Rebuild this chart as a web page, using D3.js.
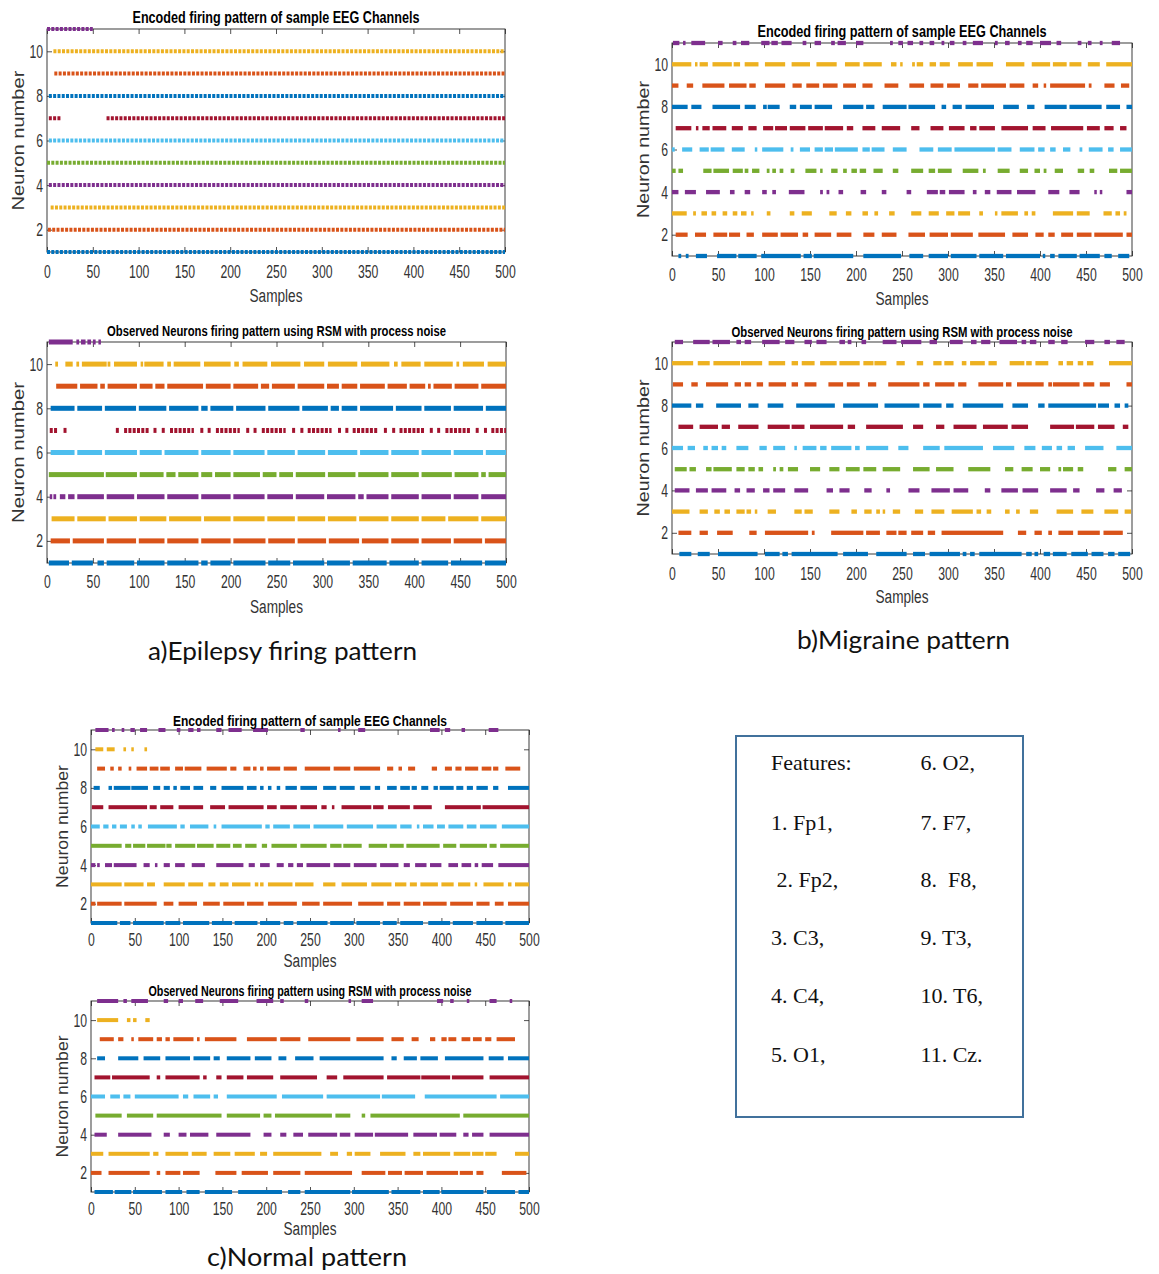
<!DOCTYPE html>
<html>
<head>
<meta charset="utf-8">
<script src="https://cdn.jsdelivr.net/npm/d3@7"></script>
<style>
body { margin: 0; background: #fff; }
</style>
</head>
<body>
<div id="fig"></div>
<script>
//TEXTS
var TITLE_ENCODED = "Encoded firing pattern of sample EEG Channels";
var TITLE_OBSERVED = "Observed Neurons firing pattern using RSM with process noise";
var X_LABEL = "Samples";
var Y_LABEL = "Neuron number";
var X_TICKS = [0, 50, 100, 150, 200, 250, 300, 350, 400, 450, 500];
var Y_TICKS = [2, 4, 6, 8, 10];
var CAPTIONS = ["a)Epilepsy firing pattern", "b)Migraine pattern", "c)Normal pattern"];
var FEATURES_LEFT = ["Features:", "1. Fp1,", " 2. Fp2,", "3. C3,", "4. C4,", "5. O1,"];
var FEATURES_RIGHT = ["6. O2,", "7. F7,", "8.  F8,", "9. T3,", "10. T6,", "11. Cz."];

//SPIKE RUNS PER NEURON (first entry = neuron 1), [start sample, end sample]
var epilepsyEncoded = [
  [[0,500]],
  [[1,500]],
  [[4,500]],
  [[2,500]],
  [[0,500]],
  [[2,500]],
  [[2,15],[65,500]],
  [[2,500]],
  [[8,500]],
  [[7,500]],
  [[0,50]]
];

var epilepsyObserved = [
  [[2,24],[27,50],[55,62],[65,95],[98,128],[131,165],[168,175],[178,200],[203,238],[241,265],[268,302],[305,330],[333,370],[373,405],[408,437],[440,474],[477,500]],
  [[4,25],[28,62],[65,97],[100,128],[131,165],[168,200],[203,238],[241,270],[273,304],[307,340],[343,372],[375,405],[408,440],[443,474],[477,500]],
  [[5,30],[33,64],[67,98],[101,130],[133,168],[171,200],[203,237],[240,270],[273,303],[306,337],[340,372],[375,405],[408,434],[437,470],[473,500]],
  [[3,4],[7,10],[14,20],[23,30],[33,62],[65,95],[98,128],[131,165],[168,200],[203,237],[240,268],[271,302],[305,336],[339,345],[348,372],[375,405],[408,440],[443,470],[473,500]],
  [[2,62],[64,98],[101,127],[130,140],[143,165],[168,180],[183,200],[203,232],[235,250],[253,268],[271,303],[306,336],[339,372],[375,405],[408,441],[444,470],[473,478],[481,500]],
  [[4,30],[33,60],[63,98],[101,125],[128,165],[168,200],[203,237],[240,270],[273,303],[306,338],[341,372],[375,405],[408,440],[443,475],[478,500]],
  [[3,11],[18,20],[75,77],[84,111],[116,120],[125,129],[134,160],[167,170],[175,179],[184,210],[217,220],[225,229],[234,260],[267,269],[276,279],[284,310],[317,320],[325,329],[333,361],[367,370],[376,380],[384,411],[417,420],[425,429],[434,461],[467,470],[476,479],[484,500]],
  [[4,30],[33,60],[63,97],[100,130],[133,165],[168,175],[178,203],[206,238],[241,275],[278,306],[309,318],[321,338],[341,377],[380,408],[411,440],[443,475],[478,500]],
  [[10,33],[36,55],[58,63],[66,98],[101,115],[118,128],[131,170],[173,200],[203,230],[233,242],[245,270],[273,302],[305,318],[321,338],[341,368],[371,392],[395,412],[415,418],[421,441],[444,470],[473,500]],
  [[9,12],[20,28],[32,35],[38,65],[66,69],[73,98],[102,104],[106,127],[131,135],[138,167],[171,200],[204,209],[213,240],[244,276],[280,302],[306,338],[342,373],[378,382],[386,407],[411,442],[446,449],[453,476],[480,500]],
  [[2,28],[32,35],[37,42],[44,48],[50,53],[56,58]]
];

var migraineEncoded = [
  [[7,10],[15,18],[26,38],[49,70],[72,92],[97,140],[143,152],[154,197],[208,249],[258,273],[279,300],[303,331],[334,360],[363,400],[403,405],[411,416],[420,440],[443,465],[470,478],[485,497]],
  [[4,17],[25,37],[45,60],[62,74],[81,89],[98,115],[118,137],[142,148],[155,173],[179,195],[208,220],[228,244],[257,275],[280,300],[303,327],[333,362],[370,387],[395,404],[409,416],[423,436],[440,456],[459,490],[494,500]],
  [[0,16],[23,26],[32,38],[43,48],[55,60],[66,71],[75,81],[86,88],[103,107],[128,133],[141,152],[171,179],[189,195],[207,213],[220,224],[236,242],[260,271],[279,290],[298,307],[311,324],[334,338],[351,353],[358,376],[383,387],[391,395],[414,436],[440,454],[469,478],[482,487],[491,494]],
  [[0,7],[14,26],[37,52],[63,68],[79,85],[98,103],[109,113],[127,144],[161,164],[168,171],[181,186],[205,211],[228,233],[255,260],[277,289],[291,297],[301,318],[327,331],[340,346],[353,369],[375,395],[409,421],[432,443],[459,461],[465,467],[494,500]],
  [[0,4],[7,12],[34,43],[45,62],[66,77],[79,83],[87,95],[103,106],[109,113],[117,121],[129,133],[145,157],[161,162],[173,180],[186,190],[195,201],[204,211],[219,229],[240,246],[260,273],[279,286],[289,304],[316,333],[338,341],[354,367],[378,387],[394,400],[404,407],[416,425],[441,448],[454,459],[475,484],[487,500]],
  [[0,3],[11,22],[30,40],[42,57],[65,79],[90,92],[98,121],[129,132],[139,150],[155,164],[166,175],[177,202],[207,215],[217,231],[240,255],[269,284],[289,304],[307,351],[354,369],[378,394],[398,405],[411,417],[425,433],[443,446],[453,468],[474,480],[487,500]],
  [[4,21],[26,28],[33,41],[44,59],[65,77],[83,92],[99,110],[112,125],[128,145],[148,164],[166,186],[190,197],[207,221],[228,248],[260,269],[281,295],[301,318],[324,331],[334,351],[358,387],[392,406],[412,447],[451,465],[470,480],[487,494]],
  [[0,17],[21,32],[44,74],[79,91],[99,103],[104,117],[128,135],[139,152],[155,174],[186,208],[211,220],[229,255],[257,286],[293,298],[305,315],[319,350],[360,377],[386,394],[405,429],[432,467],[472,487],[494,500]],
  [[0,7],[16,23],[33,57],[62,81],[84,91],[101,123],[131,141],[146,160],[164,180],[186,200],[207,218],[231,246],[258,274],[281,295],[299,313],[322,333],[336,363],[367,383],[392,398],[404,405],[411,449],[453,456],[470,481],[488,497]],
  [[0,21],[25,26],[30,39],[44,65],[67,74],[79,94],[101,123],[130,150],[157,179],[188,204],[208,228],[238,244],[248,250],[261,264],[266,273],[280,287],[291,302],[311,327],[331,349],[363,383],[391,411],[414,429],[432,445],[452,465],[472,500]],
  [[1,8],[12,14],[21,36],[50,55],[66,70],[75,84],[97,106],[108,115],[119,130],[142,146],[155,162],[173,177],[180,189],[200,208],[237,240],[246,251],[256,262],[269,273],[280,285],[293,296],[302,307],[316,320],[327,338],[351,354],[362,367],[376,380],[385,392],[400,412],[418,423],[441,445],[452,456],[465,468],[478,487]]
];

var migraineObserved = [
  [[8,21],[28,41],[50,93],[101,117],[120,126],[130,180],[186,213],[222,255],[262,275],[280,313],[316,320],[324,329],[334,380],[385,391],[394,398],[404,411],[414,429],[434,452],[456,469],[474,481],[485,498]],
  [[7,21],[30,39],[49,66],[84,92],[101,148],[152,155],[173,208],[211,226],[233,244],[246,255],[260,273],[278,286],[293,360],[376,385],[394,402],[409,413],[420,436],[441,465],[469,490]],
  [[0,19],[30,39],[46,52],[57,63],[70,79],[81,86],[90,92],[104,113],[133,141],[144,153],[171,182],[195,201],[209,217],[222,226],[229,231],[240,248],[264,273],[282,296],[304,327],[331,336],[342,347],[362,367],[374,378],[389,398],[418,436],[445,458],[470,485],[492,499]],
  [[3,19],[26,39],[43,59],[68,74],[81,90],[99,106],[110,123],[133,148],[168,175],[182,193],[209,217],[233,237],[257,269],[282,302],[306,322],[340,346],[358,376],[381,398],[411,429],[436,443],[461,470],[480,489]],
  [[3,16],[19,26],[37,43],[45,65],[70,79],[83,90],[94,99],[110,113],[117,121],[126,137],[150,161],[171,182],[189,204],[208,222],[229,248],[262,280],[287,306],[322,346],[362,371],[380,392],[400,411],[420,423],[425,436],[441,447],[474,483],[492,500]],
  [[0,12],[17,25],[34,39],[43,50],[54,59],[70,83],[95,103],[110,123],[133,135],[142,157],[161,168],[173,195],[199,204],[211,235],[246,257],[273,291],[296,338],[349,372],[383,395],[402,413],[418,424],[430,438],[449,469],[483,500]],
  [[7,23],[30,50],[54,63],[72,94],[104,128],[130,144],[150,186],[191,199],[211,251],[262,273],[287,296],[306,331],[338,365],[369,387],[411,437],[439,459],[463,481],[490,496]],
  [[0,21],[26,34],[48,75],[83,94],[104,121],[135,177],[186,224],[231,269],[273,293],[298,306],[316,360],[370,387],[398,405],[409,461],[463,475],[481,487],[492,496]],
  [[1,12],[21,28],[37,61],[68,75],[79,86],[92,99],[105,124],[130,137],[144,157],[170,186],[190,204],[213,222],[235,269],[273,280],[286,307],[311,320],[333,360],[363,369],[375,404],[409,413],[414,443],[447,459],[465,476],[494,500]],
  [[0,23],[28,41],[45,74],[75,98],[105,123],[130,137],[141,155],[161,179],[182,204],[208,219],[220,233],[244,253],[266,273],[284,293],[296,306],[315,320],[324,340],[344,353],[367,383],[385,391],[395,409],[420,425],[429,436],[441,447],[451,458],[475,500]],
  [[3,12],[23,41],[44,63],[70,75],[79,86],[98,117],[123,133],[144,152],[157,168],[182,188],[191,195],[206,211],[229,244],[249,271],[280,288],[302,316],[325,331],[336,346],[356,375],[380,385],[389,396],[409,416],[423,430],[449,459],[470,476],[483,492]]
];

var normalEncoded = [
  [[0,30],[33,45],[48,83],[85,102],[105,135],[138,161],[164,190],[193,216],[220,231],[235,270],[273,300],[303,330],[333,349],[353,379],[385,410],[413,436],[440,470],[473,500]],
  [[0,5],[7,35],[38,75],[83,94],[100,121],[128,147],[151,175],[178,197],[202,235],[241,261],[265,298],[305,334],[338,353],[357,376],[379,406],[410,436],[440,455],[461,471],[476,500]],
  [[0,35],[38,60],[64,73],[83,107],[111,128],[134,142],[147,157],[161,182],[187,191],[193,197],[202,230],[233,254],[265,279],[286,315],[320,343],[347,360],[364,372],[376,396],[400,414],[419,433],[438,440],[448,471],[476,480],[484,500]],
  [[0,5],[7,10],[16,24],[26,52],[60,67],[73,75],[83,90],[96,107],[115,130],[143,174],[180,187],[193,204],[212,220],[225,231],[235,242],[246,273],[277,296],[300,326],[330,351],[357,364],[370,383],[387,400],[408,419],[423,434],[438,442],[446,459],[465,500]],
  [[0,35],[39,46],[48,62],[64,85],[86,92],[96,119],[121,140],[143,159],[162,172],[176,189],[195,201],[206,235],[239,269],[273,286],[288,309],[317,338],[341,357],[360,398],[402,417],[421,452],[455,463],[467,500]],
  [[0,10],[14,20],[24,29],[33,41],[46,50],[54,58],[65,98],[102,107],[113,134],[140,143],[149,195],[199,204],[208,227],[231,250],[254,288],[292,322],[326,349],[353,366],[372,374],[379,391],[395,404],[408,425],[429,440],[444,463],[469,500]],
  [[1,14],[20,64],[67,75],[79,94],[100,128],[136,153],[157,197],[201,212],[216,235],[239,258],[263,269],[275,277],[286,320],[322,334],[339,364],[368,389],[404,445],[447,500]],
  [[3,10],[20,24],[26,45],[46,65],[71,79],[83,90],[94,98],[102,113],[117,128],[136,143],[149,174],[178,189],[193,197],[202,206],[212,216],[222,235],[239,258],[265,280],[284,301],[307,319],[324,330],[338,349],[353,364],[366,372],[377,385],[391,396],[398,414],[417,425],[429,436],[440,453],[459,465],[476,500]],
  [[7,16],[22,26],[31,35],[43,46],[52,64],[67,77],[79,90],[96,105],[107,126],[132,155],[159,166],[174,182],[185,189],[193,197],[201,216],[220,235],[244,273],[277,296],[300,330],[338,345],[351,355],[362,370],[389,395],[404,412],[416,423],[427,442],[446,457],[459,465],[473,490]],
  [[5,14],[18,27],[37,40],[46,48],[61,64]],
  [[5,20],[24,27],[35,38],[45,50],[56,64],[77,85],[98,102],[111,117],[121,125],[143,149],[157,172],[185,202],[239,244],[282,284],[305,313],[387,398],[404,410],[423,427],[454,465]]
];

var normalObserved = [
  [[4,25],[27,46],[48,81],[85,104],[109,124],[130,161],[168,218],[225,239],[244,296],[298,340],[343,376],[379,398],[400,448],[452,484],[488,500]],
  [[0,12],[20,67],[75,79],[85,102],[105,124],[142,166],[172,202],[208,239],[244,298],[309,336],[339,355],[358,379],[383,419],[421,436],[440,448],[469,497]],
  [[0,14],[20,67],[71,77],[85,111],[115,132],[140,159],[164,187],[193,201],[208,263],[273,282],[292,298],[301,319],[330,359],[368,376],[379,410],[414,433],[435,448],[450,463],[484,500]],
  [[4,18],[31,69],[83,90],[100,109],[113,134],[143,182],[197,206],[216,223],[231,242],[248,281],[284,296],[301,322],[324,362],[368,395],[398,417],[425,431],[435,448],[455,500]],
  [[5,35],[41,71],[75,149],[155,193],[197,206],[210,275],[279,296],[309,313],[319,421],[425,500]],
  [[0,16],[22,33],[37,45],[50,100],[105,111],[117,136],[140,145],[155,212],[218,265],[269,330],[332,370],[381,463],[467,500]],
  [[4,22],[24,67],[75,79],[85,124],[128,132],[143,149],[155,174],[178,208],[216,258],[269,281],[288,334],[338,376],[377,410],[412,448],[455,500]],
  [[7,16],[31,54],[60,79],[85,113],[117,136],[140,147],[155,182],[187,206],[214,223],[233,254],[261,334],[343,349],[357,372],[376,396],[404,448],[454,471],[476,500]],
  [[10,26],[31,37],[46,48],[54,71],[75,81],[85,90],[94,117],[121,124],[130,166],[178,212],[216,239],[248,296],[303,334],[343,357],[366,374],[387,393],[400,406],[408,417],[423,433],[436,446],[450,457],[463,484]],
  [[7,31],[41,45],[48,52],[62,67]],
  [[7,31],[37,41],[46,65],[83,88],[100,105],[119,128],[147,168],[189,208],[216,220],[244,248],[294,296],[309,322],[395,402],[410,414],[429,431],[455,463],[478,480]]
];

//MATLAB LINE COLOURS BY NEURON
var COLORS = ["#0072BD","#D95319","#EDB120","#7E2F8E","#77AC30","#4DBEEE","#A2142F","#0072BD","#D95319","#EDB120","#7E2F8E"];
var AXIS_COL = "#262626";
var LABEL_COL = "#333";
var SANS = "'Liberation Sans', Arial, sans-serif";

var svg = d3.select("#fig").append("svg")
  .attr("width", 1159)
  .attr("height", 1274)
  .style("display", "block");

//PANEL LAYOUT
var panels = [
  {rows: epilepsyEncoded, title: TITLE_ENCODED, left: 47, right: 505, top: 29, bottom: 252, titleY: 23, titleW: 287, titleSize: 16, tickPad: 13, samplesY: 302, ylabX: 24, ylabLen: 140, thick: 4, dotted: [1,2,3,4,5,6,7,8,9,10,11]},
  {rows: epilepsyObserved, title: TITLE_OBSERVED, left: 47, right: 506, top: 342, bottom: 563, titleY: 336, titleW: 339, titleSize: 14, tickPad: 12, samplesY: 613, ylabX: 24, ylabLen: 141, thick: 5, dotted: [7]},
  {rows: migraineEncoded, title: TITLE_ENCODED, left: 672, right: 1132, top: 43, bottom: 256, titleY: 37, titleW: 289, titleSize: 16, tickPad: 11.4, samplesY: 305, ylabX: 649, ylabLen: 137, thick: 4.3, dotted: []},
  {rows: migraineObserved, title: TITLE_OBSERVED, left: 672, right: 1132, top: 342, bottom: 554, titleY: 337, titleW: 341, titleSize: 14, tickPad: 12.4, samplesY: 603, ylabX: 649, ylabLen: 137, thick: 4.3, dotted: []},
  {rows: normalEncoded, title: TITLE_ENCODED, left: 91, right: 529, top: 730, bottom: 923, titleY: 726, titleW: 274, titleSize: 15, tickPad: 10, samplesY: 967, ylabX: 68, ylabLen: 123, thick: 4, dotted: []},
  {rows: normalObserved, title: TITLE_OBSERVED, left: 91, right: 529, top: 1001, bottom: 1192, titleY: 996, titleW: 323, titleSize: 14, tickPad: 10, samplesY: 1235, ylabX: 68, ylabLen: 122, thick: 4, dotted: []}
];

function squeezeTicks(sel) {
  sel.selectAll(".tick text")
    .attr("fill", LABEL_COL)
    .style("font-family", SANS)
    .style("font-size", "19px")
    .attr("textLength", function(d) { return String(d).length * 6.8; })
    .attr("lengthAdjust", "spacingAndGlyphs");
  sel.selectAll(".tick line").attr("stroke", AXIS_COL).attr("stroke-width", 0.8);
  sel.select(".domain").remove();
}

panels.forEach(function(p) {
  var x = d3.scaleLinear().domain([0, 500]).range([p.left, p.right]);
  var y = d3.scaleLinear().domain([1, 11]).range([p.bottom, p.top]);
  var g = svg.append("g");

  //AXES BOX
  g.append("rect")
    .attr("x", p.left).attr("y", p.top)
    .attr("width", p.right - p.left).attr("height", p.bottom - p.top)
    .attr("fill", "none").attr("stroke", AXIS_COL).attr("stroke-width", 0.9);

  g.append("g").attr("transform", "translate(0," + p.bottom + ")")
    .call(d3.axisBottom(x).tickValues(X_TICKS).tickSizeInner(-5).tickSizeOuter(0).tickPadding(p.tickPad))
    .call(squeezeTicks);
  g.append("g").attr("transform", "translate(0," + p.top + ")")
    .call(d3.axisTop(x).tickValues(X_TICKS).tickSizeInner(-5).tickSizeOuter(0).tickFormat(""))
    .call(squeezeTicks);
  g.append("g").attr("transform", "translate(" + p.left + ",0)")
    .call(d3.axisLeft(y).tickValues(Y_TICKS).tickSizeInner(-5).tickSizeOuter(0).tickPadding(4))
    .call(squeezeTicks);
  g.append("g").attr("transform", "translate(" + p.right + ",0)")
    .call(d3.axisRight(y).tickValues(Y_TICKS).tickSizeInner(-5).tickSizeOuter(0).tickFormat(""))
    .call(squeezeTicks);

  //SPIKE RUNS
  p.rows.forEach(function(runs, i) {
    var neuron = i + 1;
    var row = g.append("g").attr("class", "neuron-" + neuron);
    if (p.dotted.indexOf(neuron) >= 0) {
      row.selectAll("line")
        .data(runs)
        .enter()
        .append("line")
        .attr("x1", function(d) { return x(d[0]); })
        .attr("x2", function(d) { return Math.max(x(d[1]), x(d[0]) + 3); })
        .attr("y1", y(neuron)).attr("y2", y(neuron))
        .attr("stroke", COLORS[i])
        .attr("stroke-width", p.thick)
        .attr("stroke-dasharray", "3,1.3");
    } else {
      row.selectAll("rect")
        .data(runs)
        .enter()
        .append("rect")
        .attr("x", function(d) { return x(d[0]); })
        .attr("width", function(d) { return Math.max(x(d[1]) - x(d[0]), 2.5); })
        .attr("y", y(neuron) - p.thick / 2)
        .attr("height", p.thick)
        .attr("fill", COLORS[i]);
    }
  });

  //TITLE AND LABELS
  var cx = (p.left + p.right) / 2;
  g.append("text")
    .attr("x", cx).attr("y", p.titleY)
    .attr("text-anchor", "middle")
    .attr("textLength", p.titleW).attr("lengthAdjust", "spacingAndGlyphs")
    .style("font-family", SANS).style("font-weight", "bold").style("font-size", p.titleSize + "px")
    .attr("fill", "#000")
    .text(p.title);

  g.append("text")
    .attr("x", cx).attr("y", p.samplesY)
    .attr("text-anchor", "middle")
    .attr("textLength", 53).attr("lengthAdjust", "spacingAndGlyphs")
    .style("font-family", SANS).style("font-size", "18px")
    .attr("fill", LABEL_COL)
    .text(X_LABEL);

  g.append("text")
    .attr("transform", "translate(" + p.ylabX + "," + ((p.top + p.bottom) / 2) + ") rotate(-90)")
    .attr("text-anchor", "middle")
    .attr("textLength", p.ylabLen).attr("lengthAdjust", "spacingAndGlyphs")
    .style("font-family", SANS).style("font-size", "17px")
    .attr("fill", LABEL_COL)
    .text(Y_LABEL);
});

//CAPTIONS
var capPos = [{x: 282.5, y: 660, w: 269}, {x: 903.5, y: 649, w: 213}, {x: 307, y: 1266, w: 200}];
CAPTIONS.forEach(function(c, i) {
  svg.append("text")
    .attr("x", capPos[i].x).attr("y", capPos[i].y)
    .attr("text-anchor", "middle")
    .attr("textLength", capPos[i].w).attr("lengthAdjust", "spacingAndGlyphs")
    .style("font-family", "Lato, 'Open Sans', sans-serif").style("font-size", "25px")
    .attr("fill", "#111")
    .text(c);
});

//FEATURE BOX
var box = svg.append("g").attr("id", "features");
box.append("rect")
  .attr("x", 736).attr("y", 736).attr("width", 287).attr("height", 381)
  .attr("fill", "none").attr("stroke", "#41719C").attr("stroke-width", 2);
var rowY = [770, 830, 887, 945, 1003, 1062];
box.selectAll("text.left")
  .data(FEATURES_LEFT)
  .enter()
  .append("text")
  .attr("class", "left")
  .attr("x", 771).attr("y", function(d, i) { return rowY[i]; })
  .attr("xml:space", "preserve")
  .style("white-space", "pre")
  .style("font-family", "'Liberation Serif', 'Times New Roman', serif").style("font-size", "22px")
  .attr("fill", "#111")
  .text(function(d) { return d; });
box.selectAll("text.right")
  .data(FEATURES_RIGHT)
  .enter()
  .append("text")
  .attr("class", "right")
  .attr("x", 920.5).attr("y", function(d, i) { return rowY[i]; })
  .attr("xml:space", "preserve")
  .style("white-space", "pre")
  .style("font-family", "'Liberation Serif', 'Times New Roman', serif").style("font-size", "22px")
  .attr("fill", "#111")
  .text(function(d) { return d; });
</script>
</body>
</html>
